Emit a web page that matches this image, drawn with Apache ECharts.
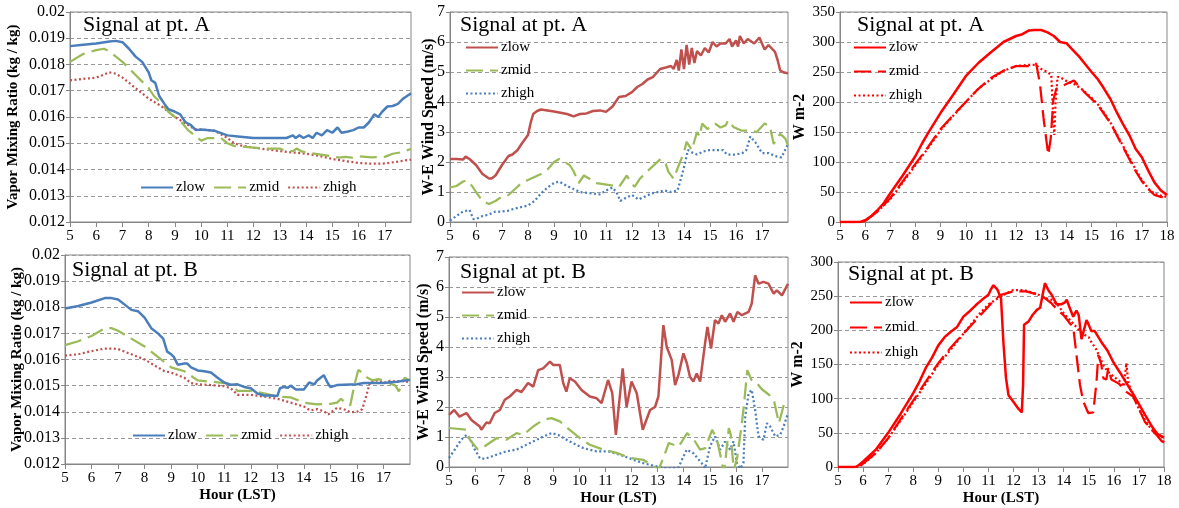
<!DOCTYPE html>
<html>
<head>
<meta charset="utf-8">
<script src="https://cdn.jsdelivr.net/npm/echarts@6/dist/echarts.min.js"></script>
<style>html,body{margin:0;padding:0;background:#fff}#c{width:1179px;height:508px}</style>
</head>
<body>
<div id="c"></div>
<script>
// ---------- DATA: [hour, value] ----------
// Panel A - vapor mixing ratio (kg/kg)
const vmrA_zlow = [[5,0.0187],[5.5,0.01875],[6,0.0188],[6.5,0.01888],[6.75,0.0189],[7,0.01885],[7.25,0.0186],[7.5,0.0183],[7.75,0.0181],[8,0.0177],[8.1,0.0174],[8.25,0.0173],[8.4,0.0168],[8.6,0.0165],[8.75,0.0163],[9,0.0162],[9.2,0.0161],[9.4,0.0158],[9.6,0.0157],[9.8,0.0155],[10,0.01552],[10.5,0.01548],[11,0.0153],[11.5,0.01525],[12,0.0152],[12.5,0.0152],[13,0.0152],[13.25,0.0152],[13.5,0.0153],[13.6,0.0152],[13.75,0.0153],[13.9,0.0152],[14.1,0.0153],[14.25,0.0152],[14.4,0.0154],[14.6,0.0153],[14.8,0.0155],[15,0.0154],[15.2,0.0156],[15.35,0.0154],[15.6,0.01545],[15.8,0.0155],[16,0.0156],[16.2,0.0156],[16.4,0.0158],[16.6,0.0161],[16.75,0.016],[16.9,0.0162],[17.1,0.0164],[17.3,0.01642],[17.5,0.0165],[17.7,0.0167],[17.85,0.0168],[18,0.0169]];
const vmrA_zmid = [[5,0.0181],[5.5,0.0184],[6,0.01855],[6.3,0.0186],[6.5,0.0185],[6.75,0.0183],[7,0.0181],[7.5,0.0176],[8,0.0171],[8.2,0.0168],[8.5,0.0165],[8.75,0.0162],[9,0.016],[9.25,0.0158],[9.5,0.0155],[9.75,0.0153],[10,0.0151],[10.25,0.0152],[10.5,0.0152],[10.75,0.0152],[11,0.015],[11.25,0.0149],[11.5,0.01488],[12,0.01483],[12.5,0.0148],[13,0.0148],[13.25,0.0147],[13.5,0.0147],[13.65,0.0148],[13.8,0.0147],[14,0.01465],[14.5,0.01458],[15,0.0145],[15.25,0.01445],[15.5,0.01448],[15.75,0.01445],[16,0.0145],[16.5,0.01446],[17,0.01448],[17.3,0.0146],[17.6,0.01465],[18,0.01478]];
const vmrA_zhigh = [[5,0.0174],[5.5,0.01745],[6,0.0175],[6.5,0.0177],[6.75,0.01765],[7,0.0175],[7.5,0.0171],[8,0.0167],[8.5,0.0164],[9,0.016],[9.5,0.0157],[9.75,0.01553],[10,0.01552],[10.5,0.01548],[11,0.0152],[11.25,0.015],[11.5,0.01492],[12,0.01483],[12.5,0.01477],[13,0.0147],[13.5,0.01465],[14,0.0146],[14.5,0.01452],[15,0.0144],[15.5,0.01432],[16,0.01425],[16.5,0.01422],[17,0.01423],[17.5,0.0143],[18,0.01438]];

// Panel B - vapor mixing ratio (kg/kg)
const vmrB_zlow = [[5,0.01795],[5.5,0.01805],[6,0.01818],[6.5,0.01835],[6.75,0.01835],[7,0.0183],[7.25,0.0181],[7.5,0.0179],[7.75,0.01785],[8,0.0176],[8.25,0.0172],[8.5,0.017],[8.7,0.0168],[8.85,0.0163],[9,0.0162],[9.1,0.0161],[9.25,0.0158],[9.5,0.01585],[9.6,0.01585],[9.75,0.0157],[10,0.01558],[10.25,0.01555],[10.5,0.0155],[10.75,0.0153],[11,0.01512],[11.25,0.01503],[11.5,0.01505],[11.75,0.01495],[12,0.0149],[12.25,0.0147],[12.5,0.01462],[12.75,0.01462],[13,0.0146],[13.1,0.0149],[13.25,0.01495],[13.4,0.01492],[13.5,0.015],[13.7,0.01485],[14,0.01485],[14.2,0.01512],[14.4,0.01505],[14.5,0.0152],[14.75,0.0154],[14.9,0.0151],[15,0.01495],[15.25,0.01502],[15.5,0.01503],[16,0.01505],[16.25,0.0151],[16.5,0.0151],[17,0.0151],[17.5,0.01515],[18,0.01522]];
const vmrB_zmid = [[5,0.01655],[5.5,0.0167],[6,0.0169],[6.5,0.0172],[6.75,0.0172],[7,0.0171],[7.5,0.0168],[8,0.0165],[8.5,0.0161],[9,0.0157],[9.5,0.01555],[10,0.0152],[10.5,0.01515],[11,0.0151],[11.25,0.01505],[11.5,0.0148],[12,0.0148],[12.5,0.0147],[13,0.01458],[13.5,0.01455],[14,0.01435],[14.5,0.01428],[15,0.0143],[15.25,0.01435],[15.4,0.0145],[15.6,0.0143],[15.75,0.01425],[15.9,0.015],[16.05,0.0156],[16.2,0.0155],[16.4,0.0153],[16.6,0.0152],[16.8,0.01525],[17,0.0152],[17.2,0.0151],[17.45,0.015],[17.58,0.01478],[17.8,0.0153],[18,0.0152]];
const vmrB_zhigh = [[5,0.01615],[5.5,0.0162],[6,0.01632],[6.5,0.01642],[6.75,0.01642],[7,0.0164],[7.5,0.0162],[8,0.016],[8.5,0.0157],[8.75,0.01555],[9,0.0155],[9.5,0.0153],[9.75,0.0151],[10,0.01505],[10.5,0.01502],[11,0.01498],[11.25,0.0149],[11.5,0.01465],[12,0.01465],[12.5,0.01458],[13,0.0145],[13.5,0.01435],[14,0.0142],[14.25,0.01405],[14.5,0.0141],[14.75,0.01402],[14.92,0.0139],[15.25,0.01415],[15.5,0.0141],[15.75,0.01398],[16,0.014],[16.2,0.0141],[16.35,0.0146],[16.5,0.01515],[16.75,0.0152],[17,0.0151],[17.25,0.01518],[17.5,0.01515],[17.75,0.0152],[18,0.0151]];

// Panel A - W-E wind speed (m/s)
const wsA_zlow = [[5,2.1],[5.25,2.1],[5.5,2.08],[5.6,2.18],[5.75,2.1],[6,1.9],[6.25,1.6],[6.5,1.45],[6.6,1.45],[6.75,1.55],[7,1.9],[7.25,2.2],[7.4,2.25],[7.6,2.4],[7.75,2.6],[8,2.9],[8.1,3.3],[8.2,3.6],[8.35,3.7],[8.5,3.75],[8.75,3.72],[9,3.68],[9.5,3.6],[9.75,3.52],[10,3.6],[10.25,3.62],[10.5,3.7],[10.77,3.72],[11,3.67],[11.25,3.85],[11.5,4.17],[11.75,4.2],[12,4.33],[12.2,4.5],[12.4,4.6],[12.6,4.75],[12.8,4.83],[13.08,5.1],[13.3,5.15],[13.5,5.2],[13.6,5.1],[13.72,5.4],[13.8,5.05],[13.9,5.75],[14.0,5.1],[14.1,5.9],[14.2,5.25],[14.3,5.8],[14.4,5.3],[14.5,5.7],[14.65,5.55],[14.8,5.8],[14.95,5.65],[15.1,6.0],[15.25,5.85],[15.4,5.95],[15.6,5.95],[15.75,6.1],[15.85,5.85],[16.0,6.05],[16.08,5.85],[16.15,6.2],[16.3,5.95],[16.45,6.1],[16.7,5.95],[16.9,6.15],[17.1,5.75],[17.25,5.9],[17.5,5.67],[17.6,5.4],[17.7,5.05],[17.85,4.98],[18,4.96]];
const wsA_zmid = [[5,1.15],[5.25,1.2],[5.5,1.35],[5.65,1.38],[5.85,1.2],[6,1.0],[6.25,0.7],[6.5,0.6],[6.75,0.7],[7,0.85],[7.25,0.9],[7.5,1.1],[7.75,1.3],[8,1.4],[8.5,1.6],[8.75,1.75],[9,2.0],[9.2,2.1],[9.4,2.0],[9.6,1.9],[9.75,1.7],[9.95,1.3],[10.15,1.55],[10.35,1.45],[10.6,1.3],[10.77,1.28],[11.2,1.22],[11.5,1.17],[11.8,1.55],[11.95,1.33],[12.1,1.17],[12.3,1.44],[12.7,1.78],[13.1,2.1],[13.3,1.94],[13.4,1.67],[13.6,1.44],[13.85,2.0],[14,2.33],[14.1,2.67],[14.3,2.4],[14.5,3.0],[14.6,2.85],[14.7,3.28],[14.9,3.1],[15.2,3.28],[15.4,3.15],[15.6,3.22],[15.7,3.39],[15.9,3.17],[16.2,3.05],[16.5,3.05],[16.8,3.0],[17.1,3.28],[17.3,3.2],[17.45,2.6],[17.7,2.94],[17.9,2.78],[18,2.55]];
const wsA_zhigh = [[5,0.05],[5.25,0.2],[5.5,0.35],[5.75,0.4],[5.9,0.1],[6,0.1],[6.25,0.2],[6.5,0.25],[6.75,0.35],[7,0.35],[7.25,0.38],[7.5,0.45],[7.75,0.5],[8,0.55],[8.25,0.7],[8.5,0.95],[8.75,1.15],[9,1.3],[9.2,1.35],[9.5,1.2],[9.75,1.1],[10,1.0],[10.5,0.95],[10.75,0.92],[11,1.05],[11.25,1.15],[11.4,1.0],[11.55,0.7],[11.75,0.8],[12,0.9],[12.25,0.75],[12.5,0.85],[12.75,0.95],[13,1.0],[13.25,1.05],[13.5,1.0],[13.75,1.05],[13.9,1.5],[14.05,2.0],[14.15,2.4],[14.35,2.3],[14.5,2.25],[14.75,2.35],[15,2.4],[15.25,2.4],[15.5,2.4],[15.65,2.25],[15.85,2.25],[16,2.25],[16.25,2.3],[16.4,2.4],[16.55,2.85],[16.75,2.65],[17,2.3],[17.25,2.3],[17.5,2.2],[17.75,2.15],[18,2.6]];

// Panel B - W-E wind speed (m/s)
const wsB_zlow = [[5,1.74],[5.2,1.9],[5.4,1.68],[5.67,1.8],[5.86,1.57],[6.18,1.35],[6.24,1.24],[6.43,1.48],[6.56,1.46],[6.75,1.8],[6.95,1.9],[7.14,2.24],[7.33,2.35],[7.59,2.57],[7.78,2.5],[8.03,2.8],[8.23,2.68],[8.42,3.23],[8.61,3.29],[8.87,3.51],[9,3.4],[9.25,3.4],[9.38,2.8],[9.5,2.51],[9.63,2.96],[9.83,2.85],[10.08,2.57],[10.4,2.35],[10.66,2.29],[10.85,2.13],[11.1,2.9],[11.26,2.46],[11.4,1.07],[11.66,3.29],[11.81,2.0],[12,2.85],[12.2,2.46],[12.43,1.24],[12.71,1.9],[12.9,2.0],[13.03,2.35],[13.22,4.73],[13.35,4.0],[13.54,3.57],[13.67,2.73],[13.8,3.07],[13.99,3.79],[14.12,3.46],[14.24,3.01],[14.37,2.85],[14.5,3.12],[14.63,2.85],[14.82,4.12],[14.91,4.67],[15.05,3.95],[15.2,4.9],[15.33,4.78],[15.46,5.06],[15.59,4.84],[15.78,5.12],[15.91,4.84],[16.06,5.17],[16.23,5.06],[16.49,5.17],[16.61,5.45],[16.74,6.39],[16.87,6.11],[17.06,6.17],[17.25,6.11],[17.45,5.78],[17.57,5.89],[17.77,5.72],[18,6.11]];
const wsB_zmid = [[5,1.3],[5.67,1.24],[5.8,0.91],[6.11,0.58],[6.37,0.69],[6.82,0.96],[7.2,0.91],[7.59,1.13],[7.84,1.07],[8.23,1.35],[8.61,1.57],[8.93,1.63],[9.25,1.52],[9.63,1.24],[10.02,0.96],[10.4,0.74],[10.92,0.58],[11.43,0.47],[11.94,0.3],[12.45,0.24],[12.84,0.02],[13.03,-0.1],[13.22,0.3],[13.43,0.8],[13.81,0.68],[14.13,1.13],[14.4,0.9],[14.63,0.58],[14.83,0.63],[15.09,1.24],[15.28,0.9],[15.47,0.13],[15.55,-0.2],[15.73,1.3],[15.8,1.1],[15.92,-0.1],[16.05,0.3],[16.23,1.46],[16.29,1.9],[16.44,3.23],[16.6,2.9],[16.76,2.85],[16.99,2.6],[17.28,2.4],[17.47,2.18],[17.65,1.46],[17.84,2.07],[18,2.1]];
const wsB_zhigh = [[5,0.3],[5.22,0.58],[5.47,0.91],[5.67,1.07],[5.86,0.85],[5.99,0.58],[6.18,0.3],[6.37,0.27],[6.82,0.41],[7.2,0.52],[7.59,0.58],[7.97,0.74],[8.48,0.96],[8.93,1.13],[9.19,1.07],[9.63,0.85],[10.15,0.63],[10.66,0.52],[11.11,0.52],[11.56,0.41],[12.07,0.24],[12.45,0.13],[12.84,0.04],[13.1,0],[13.35,-0.05],[13.8,-0.02],[13.99,0.35],[14.12,0.58],[14.37,0.46],[14.69,0.13],[14.82,-0.05],[15.01,0.69],[15.2,1.02],[15.4,0.58],[15.59,0.85],[15.78,0.58],[15.91,0.85],[16.04,0.13],[16.17,-0.05],[16.29,0.13],[16.36,1.68],[16.49,2.46],[16.61,2.57],[16.74,1.9],[16.87,1.02],[17.06,0.91],[17.19,1.46],[17.32,1.35],[17.51,1.02],[17.7,1.07],[17.83,1.35],[18,1.79]];

// Panel A - radiation (W m-2)
const swA_zlow = [[5,0],[5.5,0],[5.8,0],[6,3],[6.25,10],[6.5,20],[6.75,32],[7,48],[7.5,78],[8,110],[8.25,130],[8.5,148],[9,182],[9.5,212],[10,243],[10.5,265],[11,283],[11.5,300],[12,310],[12.25,313],[12.5,319],[12.75,320],[13,320],[13.25,316],[13.5,310],[13.75,300],[14,298],[14.25,287],[14.5,276],[14.75,263],[15,250],[15.25,238],[15.5,222],[15.75,205],[16,183],[16.25,163],[16.5,145],[16.75,122],[17,108],[17.25,86],[17.5,66],[17.75,53],[18,45]];
const swA_zmid = [[5,0],[5.8,0],[6,2],[6.5,18],[7,40],[7.5,68],[8,97],[8.5,125],[9,155],[9.5,178],[10,200],[10.5,222],[11,240],[11.5,252],[12,260],[12.5,260],[12.8,264],[12.95,230],[13.1,170],[13.28,112],[13.38,140],[13.48,203],[13.6,222],[13.8,226],[14,230],[14.3,236],[14.5,226],[14.75,215],[15,205],[15.25,195],[15.5,180],[15.75,165],[16,145],[16.25,125],[16.5,105],[16.75,85],[17,68],[17.25,55],[17.5,45],[17.75,42],[18,40]];
const swA_zhigh = [[5,0],[5.8,0],[6,2],[6.5,18],[7,38],[7.5,66],[8,95],[8.5,123],[9,153],[9.5,177],[10,200],[10.5,222],[11,238],[11.5,252],[12,260],[12.5,262],[12.75,262],[13,255],[13.25,250],[13.4,245],[13.47,180],[13.52,145],[13.57,200],[13.65,242],[13.8,240],[14,235],[14.3,230],[14.6,222],[15,207],[15.25,196],[15.5,182],[15.75,166],[16,147],[16.25,127],[16.5,107],[16.75,88],[17,70],[17.25,56],[17.5,47],[17.75,44],[18,42]];

// Panel B - radiation (W m-2)
const swB_zlow = [[5,0],[5.7,0],[5.8,2],[6,8],[6.5,25],[7,50],[7.5,78],[8,108],[8.25,125],[8.5,145],[8.75,160],[9,178],[9.25,190],[9.5,198],[9.75,205],[10,220],[10.25,228],[10.5,237],[10.75,245],[11,252],[11.1,260],[11.19,266],[11.35,260],[11.5,247],[11.6,180],[11.7,130],[11.8,105],[12,95],[12.2,85],[12.33,80],[12.38,120],[12.42,208],[12.6,213],[12.75,222],[12.93,230],[13.06,233],[13.25,269],[13.4,258],[13.52,252],[13.72,238],[13.9,238],[14.05,241],[14.12,245],[14.25,232],[14.38,220],[14.51,229],[14.6,222],[14.71,187],[14.91,215],[15.0,208],[15.1,199],[15.24,199],[15.5,183],[15.75,170],[15.97,154],[16.25,138],[16.63,115],[16.75,108],[17,92],[17.25,76],[17.56,57],[17.75,48],[17.95,44],[18,43]];
const swB_zmid = [[5,0],[5.8,0],[6,5],[6.5,20],[7,42],[7.5,70],[8,97],[8.5,125],[9,152],[9.5,175],[10,195],[10.5,215],[11,235],[11.25,245],[11.5,252],[12,257],[12.5,257],[13,252],[13.25,247],[13.5,240],[13.75,230],[14,222],[14.25,210],[14.38,205],[14.51,164],[14.65,120],[14.78,96],[14.98,79],[15.18,80],[15.31,125],[15.38,164],[15.5,150],[15.58,130],[15.7,128],[15.78,145],[15.9,128],[15.97,130],[16.2,122],[16.5,110],[16.77,103],[17,85],[17.24,66],[17.57,52],[17.75,45],[17.9,38],[18,36]];
const swB_zhigh = [[5,0],[5.8,0],[6,4],[6.5,20],[7,42],[7.5,68],[8,95],[8.5,122],[9,150],[9.5,172],[10,195],[10.66,225],[11,238],[11.5,250],[11.99,259],[12.4,259],[12.86,254],[13.33,247],[13.5,245],[13.75,238],[14,225],[14.25,215],[14.5,205],[14.75,195],[15,190],[15.1,183],[15.3,172],[15.58,149],[15.75,140],[15.97,133],[16.25,125],[16.4,118],[16.5,152],[16.57,125],[16.7,110],[17,85],[17.25,68],[17.5,55],[17.75,46],[17.89,47],[18,33]];

// ---------- STYLE / LAYOUT ----------
const SERIF = "'Liberation Serif','Times New Roman',serif";
const EX_BLUE = '#4a7ebb', EX_RED = '#c0504d', EX_GREEN = '#9bbb59', RED = '#ff0000';
const DASH = [17, 7], DOT = [2, 2.5];

const panels = [
  {key:'p1', grid:{left:70, top:12, width:341, height:210}, y:{min:0.012,max:0.02,interval:0.001}, yName:'Vapor Mixing Ratio (kg / kg)', yGap:49, yFont:16, yNameFont:15, xFont:15, showMax:false, xName:'',
   title:{text:'Signal at pt. A', left:83, top:14},
   legend:{orient:'horizontal', left:140, top:180, itemGap:8},
   series:[[vmrA_zlow,EX_BLUE,'solid'],[vmrA_zmid,EX_GREEN,DASH],[vmrA_zhigh,EX_RED,DOT]]},
  {key:'p2', grid:{left:450, top:12, width:338, height:210}, y:{min:0,max:7,interval:1}, yName:'W-E Wind Speed (m/s)', yGap:13, yFont:16, yNameFont:16, xFont:15, showMax:false, xName:'',
   title:{text:'Signal at pt. A', left:460, top:14},
   legend:{orient:'vertical', left:465, top:40, itemGap:8},
   series:[[wsA_zlow,EX_RED,'solid'],[wsA_zmid,EX_GREEN,DASH],[wsA_zhigh,EX_BLUE,DOT]]},
  {key:'p3', grid:{left:840, top:12, width:327, height:210}, y:{min:0,max:350,interval:50}, yName:'W m-2', yGap:32, yFont:15, yNameFont:16, xFont:15, showMax:true, xName:'',
   title:{text:'Signal at pt. A', left:857, top:14},
   legend:{orient:'vertical', left:853, top:40, itemGap:9},
   series:[[swA_zlow,RED,'solid'],[swA_zmid,RED,DASH],[swA_zhigh,RED,DOT]]},
  {key:'p4', grid:{left:65, top:255, width:345, height:209}, y:{min:0.012,max:0.02,interval:0.001}, yName:'Vapor Mixing Ratio (kg / kg)', yGap:40, yFont:16, yNameFont:15, xFont:15, showMax:false, xName:'Hour (LST)',
   title:{text:'Signal at pt. B', left:72, top:259},
   legend:{orient:'horizontal', left:132, top:428, itemGap:8},
   series:[[vmrB_zlow,EX_BLUE,'solid'],[vmrB_zmid,EX_GREEN,DASH],[vmrB_zhigh,EX_RED,DOT]]},
  {key:'p5', grid:{left:449, top:257, width:339, height:210}, y:{min:0,max:7,interval:1}, yName:'W-E Wind Speed (m/s)', yGap:17, yFont:16, yNameFont:16, xFont:15, showMax:false, xName:'Hour (LST)',
   title:{text:'Signal at pt. B', left:460, top:261},
   legend:{orient:'vertical', left:461, top:285, itemGap:8},
   series:[[wsB_zlow,EX_RED,'solid'],[wsB_zmid,EX_GREEN,DASH],[wsB_zhigh,EX_BLUE,DOT]]},
  {key:'p6', grid:{left:838, top:262, width:326, height:205}, y:{min:0,max:300,interval:50}, yName:'W m-2', yGap:32, yFont:15, yNameFont:16, xFont:15, showMax:true, xName:'Hour (LST)',
   title:{text:'Signal at pt. B', left:848, top:263},
   legend:{orient:'vertical', left:849, top:295, itemGap:10},
   series:[[swB_zlow,RED,'solid'],[swB_zmid,RED,DASH],[swB_zhigh,RED,DOT]]}
];
const NAMES = ['zlow','zmid','zhigh'];

const option = {animation:false, backgroundColor:'#fff', grid:[], xAxis:[], yAxis:[], series:[], legend:[], title:[]};
panels.forEach((p, i) => {
  option.grid.push(Object.assign({show:true, borderColor:'#868686', borderWidth:1, backgroundColor:'transparent'}, p.grid));
  option.xAxis.push({
    type:'value', gridIndex:i, min:5, max:18, interval:1,
    name:p.xName, nameLocation:'middle', nameGap:24, nameMoveOverlap:false,
    nameTextStyle:{fontFamily:SERIF, fontWeight:'bold', fontSize:15, color:'#000'},
    axisLine:{show:true, onZero:false, lineStyle:{color:'#868686', width:1}},
    axisTick:{show:true, length:5, inside:false, lineStyle:{color:'#868686'}},
    splitLine:{show:false},
    axisLabel:{fontFamily:SERIF, fontSize:p.xFont, color:'#000', margin:7, showMaxLabel:p.showMax}
  });
  option.yAxis.push({
    type:'value', gridIndex:i, min:p.y.min, max:p.y.max, interval:p.y.interval,
    name:p.yName, nameLocation:'middle', nameGap:p.yGap, nameRotate:90, nameMoveOverlap:false,
    nameTextStyle:{fontFamily:SERIF, fontWeight:'bold', fontSize:p.yNameFont, color:'#000'},
    axisLine:{show:true, lineStyle:{color:'#868686', width:1}},
    axisTick:{show:true, length:4, lineStyle:{color:'#868686'}},
    splitLine:{show:true, lineStyle:{color:'#999', type:[4,3], width:1}},
    axisLabel:{fontFamily:SERIF, fontSize:p.yFont, color:'#000', margin:5,
      formatter: v => (p.y.interval < 0.01 ? String(+v.toFixed(3)) : String(v))}
  });
  option.title.push({text:p.title.text, left:p.title.left, top:p.title.top, padding:0,
    textStyle:{fontFamily:SERIF, fontSize:22, fontWeight:'normal', color:'#000'}});
  const legData = [];
  p.series.forEach((s, k) => {
    const nm = NAMES[k] + '_' + p.key;
    legData.push(nm);
    option.series.push({
      type:'line', name:nm, xAxisIndex:i, yAxisIndex:i, data:s[0],
      showSymbol:false, symbol:'none', clip:true, smooth:false,
      lineStyle:{color:s[1], width:(s[2]==='solid'?2.5:2.25), type:s[2]},
      itemStyle:{color:s[1]}, z: 3 - k
    });
  });
  option.legend.push({data:legData, orient:p.legend.orient, left:p.legend.left, top:p.legend.top,
    itemGap:p.legend.itemGap, itemWidth:32, itemHeight:14, padding:0, selectedMode:false,
    itemStyle:{opacity:0, borderWidth:0},
    formatter: n => n.split('_')[0],
    textStyle:{fontFamily:SERIF, fontSize:15, color:'#000', padding:[0,0,0,-2]}});
});

const chart = echarts.init(document.getElementById('c'), null, {renderer:'canvas'});
chart.setOption(option);
</script>
</body>
</html>
